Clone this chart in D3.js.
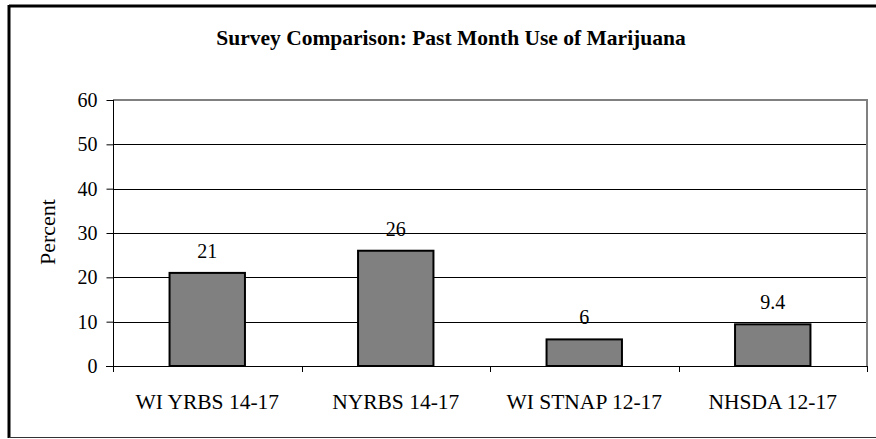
<!doctype html><html><head>
<style>
  body { margin: 0; background: #fff; }
  svg text { font-family: "Liberation Serif", "Times New Roman", serif; fill: #000; }
</style>
</head><body><script src='https://d3js.org/d3.v7.min.js'></script>

<script>
  const categories = ["WI YRBS 14-17", "NYRBS 14-17", "WI STNAP 12-17", "NHSDA 12-17"];
  const values = [21, 26, 6, 9.4];
  const yTicks = [0, 10, 20, 30, 40, 50, 60];
  const title = "Survey Comparison: Past Month Use of Marijuana";
  const yTitle = "Percent";

  const width = 876, height = 439;
  const serif = "Liberation Serif, Times New Roman, serif";

  const svg = d3.select("body").append("svg")
    .attr("width", width)
    .attr("height", height)
    .attr("font-family", serif);

  // outer frame (right side runs off the picture)
  svg.append("line").attr("x1", 9).attr("x2", width).attr("y1", 6).attr("y2", 6)
    .attr("stroke", "#000").attr("stroke-width", 3);
  svg.append("line").attr("x1", 9).attr("x2", 9).attr("y1", 5).attr("y2", 438)
    .attr("stroke", "#000").attr("stroke-width", 3);
  svg.append("line").attr("x1", 9).attr("x2", width).attr("y1", 437.5).attr("y2", 437.5)
    .attr("stroke", "#333").attr("stroke-width", 1);

  const pLeft = 113, pRight = 867, pTop = 100, pBottom = 366;

  const x = d3.scaleBand().domain(categories).range([pLeft, pRight]).paddingInner(0.6).paddingOuter(0.3);
  const xOuter = d3.scaleBand().domain(categories).range([pLeft, pRight]);
  const y = d3.scaleLinear().domain([0, 60]).range([pBottom, pTop]);

  // gridlines
  svg.append("g").selectAll("line")
    .data(yTicks.filter(d => d > 0 && d < 60))
    .enter().append("line")
    .attr("x1", pLeft).attr("x2", pRight)
    .attr("y1", d => Math.round(y(d)) + 0.5).attr("y2", d => Math.round(y(d)) + 0.5)
    .attr("stroke", "#000").attr("stroke-width", 1);

  // plot frame top + right in gray
  svg.append("path")
    .attr("d", `M${pLeft},${pTop} H${pRight} V${pBottom}`)
    .attr("fill", "none").attr("stroke", "#808080").attr("stroke-width", 2);

  // bars
  svg.append("g").selectAll("rect")
    .data(values)
    .enter().append("rect")
    .attr("x", (d, i) => x(categories[i]))
    .attr("width", x.bandwidth())
    .attr("y", d => y(d))
    .attr("height", d => pBottom - y(d))
    .attr("fill", "#808080")
    .attr("stroke", "#000")
    .attr("stroke-width", 2);

  // value labels
  svg.append("g").selectAll("text")
    .data(values)
    .enter().append("text")
    .attr("x", (d, i) => x(categories[i]) + x.bandwidth() / 2)
    .attr("y", d => y(d) - 15)
    .attr("text-anchor", "middle")
    .attr("font-size", "20px")
    .text(d => d);

  // y axis
  const yAxis = svg.append("g")
    .attr("transform", `translate(${pLeft + 0.5},0)`)
    .call(d3.axisLeft(y).tickValues(yTicks).tickSize(7).tickPadding(9));
  yAxis.attr("font-family", serif).attr("font-size", 20);
  yAxis.select(".domain").attr("stroke", "#000").attr("d", `M0,${pTop}V${pBottom + 0.5}`);
  yAxis.selectAll(".tick line").attr("stroke", "#000");
  yAxis.selectAll(".tick text").attr("fill", "#000");

  // x axis
  const xAxis = svg.append("g")
    .attr("transform", `translate(0,${pBottom + 0.5})`)
    .call(d3.axisBottom(xOuter).tickSize(0).tickFormat(""));
  xAxis.select(".domain").attr("stroke", "#000").attr("d", `M${pLeft - 7},0H${pRight}`);
  svg.append("g").selectAll("line")
    .data([0, 1, 2, 3, 4])
    .enter().append("line")
    .attr("x1", i => Math.round(pLeft + i * xOuter.step()) + 0.5)
    .attr("x2", i => Math.round(pLeft + i * xOuter.step()) + 0.5)
    .attr("y1", pBottom).attr("y2", pBottom + 6)
    .attr("stroke", "#000");

  svg.append("g").selectAll("text")
    .data(categories)
    .enter().append("text")
    .attr("x", d => xOuter(d) + xOuter.bandwidth() / 2)
    .attr("y", 409)
    .attr("text-anchor", "middle")
    .attr("font-size", "21.5px")
    .text(d => d);

  // y title
  svg.append("text")
    .attr("transform", `translate(55,232) rotate(-90)`)
    .attr("text-anchor", "middle")
    .attr("font-size", "22px")
    .text(yTitle);

  // title
  svg.append("text")
    .attr("x", 451)
    .attr("y", 45)
    .attr("text-anchor", "middle")
    .attr("font-size", "21.5px")
    .attr("font-weight", "bold")
    .text(title);
</script></body></html>
